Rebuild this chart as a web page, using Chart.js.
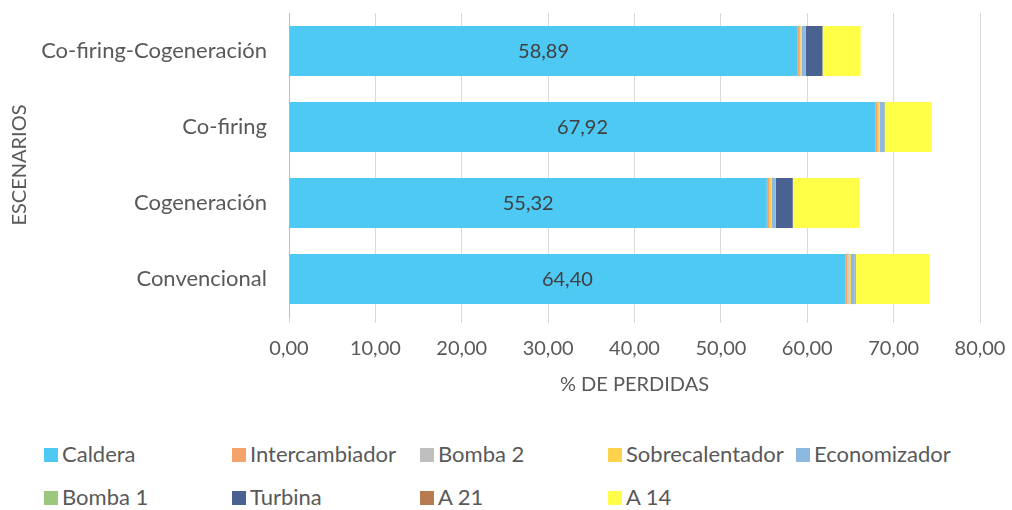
<!DOCTYPE html>
<html>
<head>
<meta charset="utf-8">
<script src="https://cdn.jsdelivr.net/npm/chart.js@4.4.0/dist/chart.umd.min.js"></script>
<style>
  body { margin: 0; background: #fff; font-family: Lato, sans-serif; }
  #wrap { position: relative; width: 1012px; height: 510px; overflow: hidden; }
  #myChart { position: absolute; left: 0; top: 0; }
  .leg { position: absolute; font-size: 22px; color: #595959; white-space: nowrap; line-height: 22px; }
  .leg span { display: inline-block; width: 14px; height: 14px; margin-right: 4px; vertical-align: 0px; }
</style>
</head>
<body>
<div id="wrap">
  <canvas id="myChart" width="1012" height="410"></canvas>
  <div id="legend"></div>
</div>
<script>
'use strict';
//////////////// data

let scenarios = ['Co-firing-Cogeneración', 'Co-firing', 'Cogeneración', 'Convencional'];
let seriesNames = ['Caldera', 'Intercambiador', 'Bomba 2', 'Sobrecalentador', 'Economizador', 'Bomba 1', 'Turbina', 'A 21', 'A 14'];
let seriesColors = ['#4DC9F4', '#F4A46A', '#BFBFBF', '#FFD24D', '#8DB8E0', '#9DC67E', '#4A6291', '#B87B50', '#FFFF47'];

let caldera = [58.89, 67.92, 55.32, 64.40];
let intercambiador = [0.25, 0.23, 0.25, 0.25];
let bomba2 = [0.05, 0.05, 0.10, 0.15];
let sobrecalentador = [0.15, 0.20, 0.20, 0.25];
let economizador = [0.45, 0.50, 0.40, 0.45];
let bomba1 = [0.02, 0.02, 0.10, 0.02];
let turbina = [1.95, 0.03, 1.95, 0.05];
let a21 = [0.02, 0.02, 0.02, 0.02];
let a14 = [4.40, 5.45, 7.70, 8.60];

let allSeries = [caldera, intercambiador, bomba2, sobrecalentador, economizador, bomba1, turbina, a21, a14];

let xTicks = [0, 10, 20, 30, 40, 50, 60, 70, 80];

function fmt(v) {
  return v.toFixed(2).replace('.', ',');
}

//////////////// datasets

let datasets = [];
for (let i = 0; i < seriesNames.length; i++) {
  datasets.push({
    label: seriesNames[i],
    data: allSeries[i],
    backgroundColor: seriesColors[i],
    borderWidth: 0,
    barPercentage: 0.66,
    categoryPercentage: 1
  });
}

//////////////// value labels on Caldera
let calderaLabels = {
  id: 'calderaLabels',
  afterDatasetsDraw(chart) {
    let ctx = chart.ctx;
    let meta = chart.getDatasetMeta(0);
    ctx.save();
    ctx.font = '20px Lato';
    ctx.fillStyle = '#404040';
    ctx.textAlign = 'center';
    ctx.textBaseline = 'middle';
    meta.data.forEach(function (bar, i) {
      let p = bar.getCenterPoint();
      ctx.fillText(fmt(caldera[i]), p.x, p.y + 1);
    });
    ctx.restore();
  }
};

Chart.defaults.font.family = 'Lato';
Chart.defaults.color = '#595959';

let ctx = document.getElementById('myChart').getContext('2d');
let myChart = new Chart(ctx, {
  type: 'bar',
  data: { labels: scenarios, datasets: datasets },
  plugins: [calderaLabels],
  options: {
    indexAxis: 'y',
    responsive: false,
    animation: false,
    layout: { padding: { top: 13, right: 32, left: 0, bottom: 0 } },
    plugins: {
      legend: { display: false },
      tooltip: { enabled: false }
    },
    scales: {
      x: {
        stacked: true,
        min: 0,
        max: 80,
        afterBuildTicks: function (scale) {
          scale.ticks = xTicks.map(v => ({ value: v }));
        },
        afterFit: function (scale) {
          scale.height = 93;
          scale.paddingLeft = 0;
          scale.paddingRight = 0;
        },
        grid: { color: '#D9D9D9', lineWidth: 1, tickLength: 6 },
        border: { display: false },
        ticks: {
          font: { size: 20 },
          padding: 14,
          maxRotation: 0,
          callback: function (v) { return fmt(v); }
        },
        title: {
          display: true,
          text: '% DE PERDIDAS',
          font: { size: 20 },
          padding: { top: 0, bottom: 13 }
        }
      },
      y: {
        stacked: true,
        afterFit: function (scale) {
          scale.width = 289;
          scale.paddingTop = 0;
          scale.paddingBottom = 0;
        },
        grid: { display: false, drawTicks: false },
        border: { display: true, color: '#BFBFBF', width: 1 },
        ticks: { font: { size: 22 }, padding: 22 },
        title: {
          display: true,
          text: 'ESCENARIOS',
          font: { size: 20 },
          padding: { top: 8, bottom: 0 }
        }
      }
    }
  }
});

//////////////// legend (fixed columns like the original)
let legend = document.getElementById('legend');
for (let i = 0; i < seriesNames.length; i++) {
  let col = i % 5;
  let row = Math.floor(i / 5);
  let item = document.createElement('div');
  item.className = 'leg';
  item.style.left = (44 + col * 188) + 'px';
  item.style.top = (443 + row * 43) + 'px';
  let sw = document.createElement('span');
  sw.style.background = seriesColors[i];
  item.appendChild(sw);
  item.appendChild(document.createTextNode(seriesNames[i]));
  legend.appendChild(item);
}
</script>
</body>
</html>
